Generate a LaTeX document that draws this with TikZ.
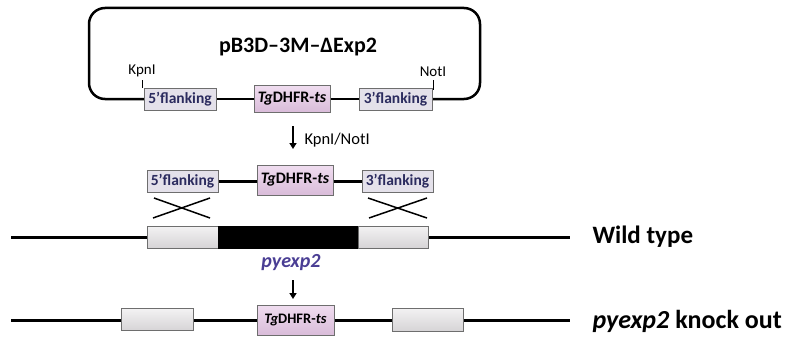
\documentclass[tikz,border=0pt]{standalone}
\usepackage{fontspec}
\setmainfont{Carlito}
\usetikzlibrary{arrows.meta}
\definecolor{flankfill}{HTML}{E4E1EA}
\definecolor{flanktext}{HTML}{2B2B5E}
\definecolor{tgfillA}{HTML}{F0DDF0}
\definecolor{tgfillB}{HTML}{D9BCD9}
\definecolor{grayA}{HTML}{F3F2F3}
\definecolor{grayB}{HTML}{D6D4D6}
\definecolor{boxline}{HTML}{6E6E6E}
\definecolor{genecol}{HTML}{4A3E94}
\tikzset{
  flankbox/.style={draw=boxline, line width=1pt, fill=flankfill, inner sep=0pt,
    text=flanktext, font=\fontsize{15.5}{15.5}\selectfont\bfseries},
  tgbox/.style={draw=boxline, line width=1pt, top color=tgfillA, bottom color=tgfillB,
    inner sep=0pt, font=\fontsize{16}{16}\selectfont\bfseries},
  graybox/.style={draw=boxline, line width=1pt, top color=grayA, bottom color=grayB, inner sep=0pt},
  dna/.style={line width=3pt},
  cross/.style={line width=1.5pt},
  downarrow/.style={line width=1.8pt, -{Triangle[length=6pt,width=7pt]}},
  sitelabel/.style={font=\fontsize{15}{15}\selectfont},
}
\begin{document}
\begin{tikzpicture}[x=1pt,y=-1pt]
\useasboundingbox (0,0) rectangle (787,337);
% plasmid
\draw[line width=2.5pt, rounded corners=16pt] (144,99) -- (89,99) -- (89,8) -- (480,8) -- (480,99) -- (432,99);
\draw[line width=2.5pt] (216,99) -- (254,99) (330,99) -- (359,99);
\node[font=\fontsize{22}{22}\selectfont\bfseries] (title) at (298,47) {pB3D–3M–ΔExp2};
\node[flankbox, minimum width=72pt, minimum height=22pt] (f5p) at (180,99) {5’flanking};
\node[tgbox, minimum width=76pt, minimum height=27pt] (tgp) at (292,98.5) {\textit{Tg}DHFR-\textit{ts}};
\node[flankbox, minimum width=73pt, minimum height=22pt] (f3p) at (395.5,99) {3’flanking};
\node[sitelabel, anchor=south] (kpn) at (142,80) {KpnI};
\node[sitelabel, anchor=south] (not) at (433,80) {NotI};
\draw[line width=0.8pt] (kpn.south) -- (f5p.north -| kpn.south);
\draw[line width=0.8pt] (not.south) -- ++(0,10);
% arrow 1
\coordinate (a1s) at (293,126);
\coordinate (a1e) at (293,149);
\draw[downarrow] (a1s) -- (a1e);
\node[font=\fontsize{16.5}{16.5}\selectfont, anchor=west] (enz) at (301,140) {KpnI/NotI};
% linear fragment
\node[flankbox, minimum width=71pt, minimum height=22pt] (f5m) at (182.5,181) {5’flanking};
\node[tgbox, minimum width=76pt, minimum height=30pt] (tgm) at (295,180) {\textit{Tg}DHFR-\textit{ts}};
\node[flankbox, minimum width=71pt, minimum height=22pt] (f3m) at (397.5,181) {3’flanking};
\draw[dna] (f5m.east) -- (tgm.west |- f5m.east);
\draw[dna] (tgm.east |- f3m.west) -- (f3m.west);
% crosses
\coordinate (c1a) at (153,218); \coordinate (c1b) at (210,198);
\coordinate (c1c) at (154,198); \coordinate (c1d) at (210,218);
\coordinate (c2a) at (368,198); \coordinate (c2b) at (427,218);
\coordinate (c2c) at (369,218); \coordinate (c2d) at (427,198);
\draw[cross] (c1a) -- (c1b) (c1c) -- (c1d) (c2a) -- (c2b) (c2c) -- (c2d);
% wild type
\coordinate (w0) at (11,237);
\coordinate (w1) at (570,237);
\draw[dna] (w0) -- (w1);
\node[graybox, minimum width=71pt, minimum height=22pt] (wg1) at (183,237) {};
\node[fill=black, draw=black, inner sep=0pt, minimum width=140pt, minimum height=22pt] (wex) at (288,237) {};
\node[graybox, minimum width=70pt, minimum height=22pt] (wg2) at (393,237) {};
\node[font=\fontsize{25}{25}\selectfont\bfseries, anchor=west] (wt) at (589,237) {Wild type};
\node[font=\fontsize{20}{20}\selectfont\bfseries\itshape, text=genecol] (gene) at (291,263) {pyexp2};
% arrow 2
\coordinate (a2s) at (293,280);
\coordinate (a2e) at (293,299);
\draw[downarrow] (a2s) -- (a2e);
% knock out
\coordinate (k0) at (11,320);
\coordinate (k1) at (570,320);
\draw[dna] (k0) -- (k1);
\node[graybox, minimum width=72pt, minimum height=22pt] (kg1) at (157,319.5) {};
\node[tgbox, minimum width=77pt, minimum height=30pt, font=\fontsize{14.5}{14.5}\selectfont\bfseries] (tgk) at (295.5,320) {\textit{Tg}DHFR-\textit{ts}};
\node[graybox, minimum width=71pt, minimum height=23pt] (kg2) at (427.5,319.5) {};
\node[font=\fontsize{26}{26}\selectfont\bfseries, anchor=west] (ko) at (589,321) {\textit{pyexp2} knock out};
\end{tikzpicture}
\end{document}
